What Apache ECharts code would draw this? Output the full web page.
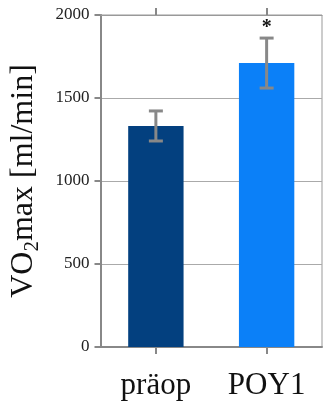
<!DOCTYPE html>
<html><head><meta charset="utf-8">
<script src="https://cdn.jsdelivr.net/npm/echarts@6/dist/echarts.min.js"></script>
<style>html,body{margin:0;padding:0;background:#fff}#c{width:323px;height:403px}</style>
</head><body><div id="c"></div>
<script>
var categories = ['präop', 'POY1'];
var values = [1331, 1711];
var errLow = [1241, 1560];
var errHigh = [1422, 1861];
var signif = ['', '*'];
var barColors = ['#03407f', '#0b80f8'];
var yTicks = [0, 500, 1000, 1500, 2000];

var chart = echarts.init(document.getElementById('c'));
var serif = '"Liberation Serif","DejaVu Serif",serif';
chart.setOption({
  animation: false,
  grid: {left: 99, right: 1, top: 15, bottom: 56, show: true, borderColor: '#999', borderWidth: 1},
  xAxis: [{
    type: 'category', data: categories,
    axisLine: {lineStyle: {color: '#888', width: 2}},
    axisTick: {show: true, alignWithLabel: true, length: 7, lineStyle: {color: '#888', width: 2}},
    axisLabel: {color: '#111', fontFamily: serif, fontSize: 31, margin: 23}
  }, {
    type: 'category', data: categories, position: 'top',
    axisLine: {lineStyle: {color: '#999', width: 1}},
    axisTick: {show: true, alignWithLabel: true, length: 7, lineStyle: {color: '#888', width: 2}},
    axisLabel: {show: false}
  }],
  yAxis: {
    type: 'value', min: yTicks[0], max: yTicks[yTicks.length - 1], interval: 500,
    name: '{a|VO}{s|2}{a|max [ml/min]}', nameLocation: 'middle', nameGap: 58,
    nameTextStyle: {rich: {
      a: {fontFamily: serif, fontSize: 32, color: '#111'},
      s: {fontFamily: serif, fontSize: 21, color: '#111', padding: [16, 0, 0, 0]}
    }},
    axisLine: {show: true, lineStyle: {color: '#888', width: 2}},
    axisTick: {show: true, length: 6, lineStyle: {color: '#888', width: 2}},
    axisLabel: {color: '#222', fontFamily: serif, fontSize: 17, margin: 11, formatter: function (v) { return String(v); }},
    splitLine: {lineStyle: {color: '#aaa', width: 1}}
  },
  series: [{
    type: 'bar', data: values.map(function (v, i) { return {value: v, itemStyle: {color: barColors[i]}}; }),
    barWidth: '50%'
  }, {
    type: 'custom', z: 10,
    data: categories.map(function (c, i) { return [i, errLow[i], errHigh[i], signif[i]]; }),
    renderItem: function (params, api) {
      var x = api.value(0);
      var lo = api.coord([x, api.value(1)]);
      var hi = api.coord([x, api.value(2)]);
      var hw = 7;
      var st = {stroke: '#888', lineWidth: 3};
      var children = [
        {type: 'line', shape: {x1: lo[0], y1: lo[1], x2: hi[0], y2: hi[1]}, style: st},
        {type: 'line', shape: {x1: lo[0] - hw, y1: lo[1], x2: lo[0] + hw, y2: lo[1]}, style: st},
        {type: 'line', shape: {x1: hi[0] - hw, y1: hi[1], x2: hi[0] + hw, y2: hi[1]}, style: st}
      ];
      var s = api.value(3);
      if (s) {
        children.push({type: 'text', x: hi[0], y: hi[1] - 10, style: {text: s, fill: '#111', font: 'bold 20px ' + serif, align: 'center', verticalAlign: 'middle'}});
      }
      return {type: 'group', children: children};
    }
  }]
});
</script></body></html>
